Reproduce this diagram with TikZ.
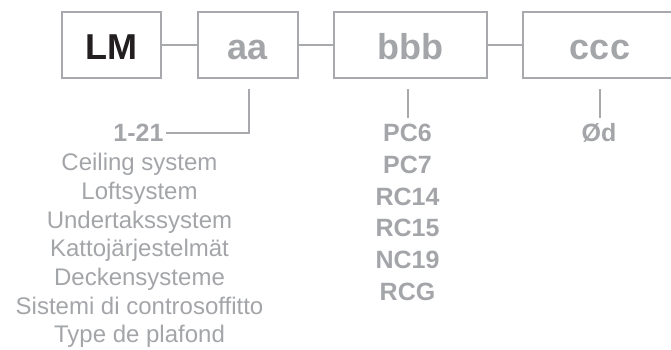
\documentclass[tikz,border=0pt]{standalone}
\usepackage{fontspec}
\setmainfont{Liberation Sans}
\definecolor{lgray}{HTML}{A7A9AC}
\definecolor{tgray}{HTML}{A3A5A8}
\definecolor{dark}{HTML}{231F20}
\begin{document}
\begin{tikzpicture}[x=1pt,y=-1pt,
  codebox/.style={draw=lgray,line width=1.8pt,minimum height=66pt,inner sep=0pt},
  boxlabel/.style={font=\fontsize{36}{40}\selectfont\bfseries,text=tgray,anchor=base,inner sep=0pt},
  boldlabel/.style={font=\fontsize{25}{30}\selectfont\bfseries,text=tgray,anchor=base,inner sep=2pt},
  textlabel/.style={font=\fontsize{24}{28}\selectfont,text=tgray,anchor=base,inner sep=0pt},
  conn/.style={draw=lgray,line width=1.8pt}]
\clip (0,0) rectangle (671,349);
% boxes
\node[codebox,minimum width=99pt] (LM) at (111.5,45) {};
\node[codebox,minimum width=100pt] (aa) at (248,45) {};
\node[codebox,minimum width=153pt] (bbb) at (410.5,45) {};
\node[codebox,minimum width=154pt] (ccc) at (600,45) {};
\node[boxlabel,text=dark] (LMt) at (111.5,59) {LM};
\node[boxlabel] (aat) at (248,59) {aa};
\node[boxlabel] (bbbt) at (410.5,59) {bbb};
\node[boxlabel] (ccct) at (600,59) {ccc};
% connectors between boxes
\draw[conn] (LM.east) -- (aa.west);
\draw[conn] (aa.east) -- (bbb.west);
\draw[conn] (bbb.east) -- (ccc.west);
% lower labels
\node[boldlabel] (n121) at (138.5,141.7) {1-21};
\node[textlabel] (l1) at (139.5,170.7) {Ceiling system};
\node[textlabel] (l2) at (139.5,199.3) {Loftsystem};
\node[textlabel] (l3) at (139.5,228) {Undertakssystem};
\node[textlabel] (l4) at (139.5,256.7) {Kattojärjestelmät};
\node[textlabel] (l5) at (139.5,285.3) {Deckensysteme};
\node[textlabel] (l6) at (139.5,314) {Sistemi di controsoffitto};
\node[textlabel] (l7) at (139.5,342.5) {Type de plafond};
\node[boldlabel] (p1) at (407.5,141) {PC6};
\node[boldlabel] (p2) at (407.5,173) {PC7};
\node[boldlabel] (p3) at (407.5,205) {RC14};
\node[boldlabel] (p4) at (407.5,236.7) {RC15};
\node[boldlabel] (p5) at (407.5,268.3) {NC19};
\node[boldlabel] (p6) at (407.5,300.5) {RCG};
\node[boldlabel] (od) at (599,141) {Ød};
% ticks
\coordinate (aatop) at (249,89);
\coordinate (bbbtop) at (408,89);
\coordinate (bbbbot) at (408,118);
\coordinate (ccctop) at (600,89);
\coordinate (cccbot) at (600,118);
\draw[conn,line width=1.6pt] (aatop) |- (n121.east);
\draw[conn,line width=1.6pt] (bbbtop) -- (bbbbot);
\draw[conn,line width=1.6pt] (ccctop) -- (cccbot);
\end{tikzpicture}
\end{document}
